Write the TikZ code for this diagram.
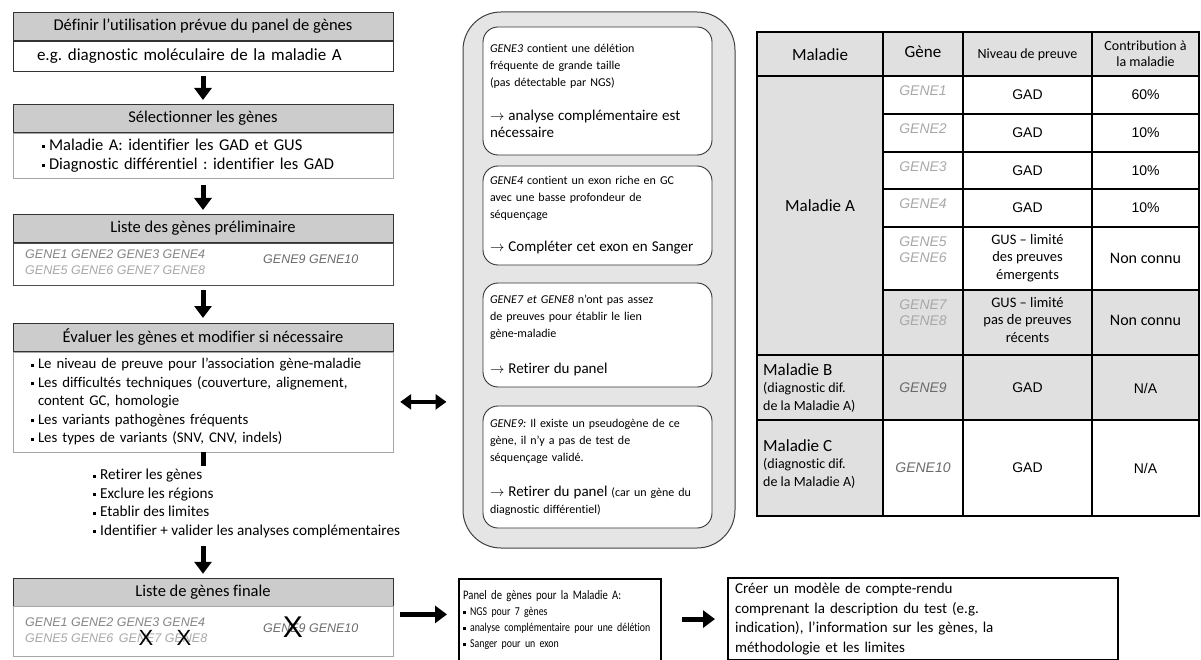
\documentclass[tikz,border=0pt]{standalone}
\usepackage{fontspec}
\setmainfont[Ligatures=NoCommon]{Carlito}
\newfontfamily\condensed[Ligatures=NoCommon,FakeStretch=0.82]{Carlito}
\newfontfamily\arial{Liberation Sans}
\usetikzlibrary{arrows.meta}
\newcommand{\fsz}[2]{\fontsize{#1}{#2}\selectfont}
\newcommand{\gros}{\fsz{15}{17}}
\newcommand{\puce}{\raisebox{0.3ex}{\rule{3pt}{3pt}}\hspace{4pt}}
\definecolor{hdrgray}{gray}{0.8}
\definecolor{cellgray}{gray}{0.88}
\definecolor{grpgray}{gray}{0.9}
\definecolor{geneA}{gray}{0.52}
\definecolor{geneB}{gray}{0.66}
\definecolor{geneC}{gray}{0.42}
\frenchspacing

\begin{document}
\begin{tikzpicture}[x=1pt,y=-1pt,
  hdr/.style={draw=black!80,fill=hdrgray,minimum width=380pt,minimum height=28pt,inner sep=0pt,font=\fsz{16.5}{20}},
  body/.style={draw=gray!70,fill=white,minimum width=380pt,text width=356pt,inner xsep=12pt,inner ysep=0pt,align=left,anchor=north},
  genes/.style={font=\arial\itshape\fsz{12.5}{15.5},align=left,inner sep=0pt},
  cross/.style={font=\arial\fsz{22}{22},inner sep=0pt},
  downarrow/.style={line width=5pt,-{Triangle[width=17pt,length=12pt]}},
  sidearrow/.style={line width=5pt,-{Triangle[width=17pt,length=12pt]}},
  note/.style={draw=black!80,line width=0.9pt,fill=white,rounded corners=15pt,minimum width=229pt,text width=215pt,inner xsep=7pt,align=left,font=\fsz{12}{17}},
  tab/.style={line width=1.3pt},
  cell/.style={align=center,inner sep=0pt,font=\fsz{14.5}{17.5}},
  gad/.style={inner sep=0pt,font=\arial\fsz{14}{17}},
  tgene/.style={inner sep=0pt,font=\arial\itshape\fsz{14}{16}},
  plainbox/.style={draw=black,line width=2.2pt,fill=white,align=left,inner xsep=7pt}]
\useasboundingbox (0,0) rectangle (1201,660);

%DEFINIR
\node[hdr] (defh) at (203,26.5) {Définir l'utilisation prévue du panel de gènes};
\node[body,draw=black!80,minimum height=30pt,text width=340pt,inner xsep=20pt,font=\fsz{17}{20}] (defb) at (defh.south) {\hspace*{4pt}e.g. diagnostic moléculaire de la maladie A};
\draw[downarrow,shorten <=5pt,shorten >=4pt] (defb.south) -- (203,104);

%SELECTIONNER
\node[hdr] (selh) at (203,118.5) {Sélectionner les gènes};
\node[body,minimum height=45pt,text width=322pt,inner xsep=29pt,font=\fsz{16.5}{19}] (selb) at (selh.south) {\puce Maladie A: identifier les GAD et GUS\\\puce Diagnostic différentiel : identifier les GAD};
\draw[downarrow,shorten <=7pt,shorten >=4pt] (selb.south) -- (203,214);

%LISTE PRELIMINAIRE
\node[hdr] (prelh) at (203,228.5) {Liste des gènes préliminaire};
\node[body,draw=black!70,minimum height=42pt] (prelb) at (prelh.south) {};
\node[genes,anchor=west] (prelg) at (25,262) {\color{geneA}GENE1 GENE2 GENE3 GENE4\\\color{geneB}GENE5 GENE6 GENE7 GENE8};
\node[genes,anchor=west,text=geneC] (prelg2) at (263,259) {GENE9 GENE10};
\draw[downarrow,shorten <=5pt,shorten >=5pt] (prelb.south) -- (203,323);

%EVALUER
\node[hdr] (evh) at (203,337.5) {Évaluer les gènes et modifier si nécessaire};
\node[body,minimum height=100pt,text width=344pt,inner xsep=18pt,font=\fsz{14.8}{18.5}] (evb) at (evh.south) {\puce Le niveau de preuve pour l’association gène-maladie\\\puce Les difficultés techniques (couverture, alignement,\\\hspace*{7pt}content GC, homologie\\\puce Les variants pathogènes fréquents\\\puce Les types de variants (SNV, CNV, indels)};

%ACTIONS
\coordinate (evcut) at (203,466);
\draw[line width=5pt] (evb.south) -- (evcut);
\node[anchor=north west,align=left,inner sep=0pt,font=\fsz{15.2}{18.5}] (acts) at (93,469) {\puce Retirer les gènes\\\puce Exclure les régions\\\puce Etablir des limites\\\puce Identifier + valider les analyses complémentaires};
\coordinate (fincut) at (203,546);

%LISTE FINALE
\node[hdr] (finh) at (203,592) {Liste de gènes finale};
\node[body,minimum height=50pt] (finb) at (finh.south) {};
\draw[downarrow,shorten >=4pt] (fincut) -- (finh.north);
\node[genes,anchor=west] (fing) at (25,630) {\color{geneA}GENE1 GENE2 GENE3 GENE4\\\color{geneB}GENE5 GENE6 \,GENE7 GENE8};
\node[genes,anchor=west,text=geneC] (fing2) at (263,628) {GENE9 GENE10};
\node[cross] (x7) at (146,638) {X};
\node[cross] (x8) at (184,638) {X};
\node[cross,font=\arial\fsz{30}{30}] (x9) at (293,627) {X};

%GROUPE DU MILIEU
\node[draw=black!75,line width=1pt,fill=grpgray,rounded corners=38pt,minimum width=272pt,minimum height=536pt] (grp) at (599,280) {};
\node[note,minimum height=128pt] (n3) at (597.5,91) {\textit{GENE3} contient une délétion\\fréquente de grande taille\\(pas détectable par NGS)\\[17pt]{\gros$\rightarrow$ analyse complémentaire est\\nécessaire}};
\node[note,minimum height=99pt] (n4) at (597.5,215.5) {\textit{GENE4} contient un exon riche en GC\\avec une basse profondeur de\\séquençage\\[16pt]{\gros$\rightarrow$ Compléter cet exon en Sanger}};
\node[note,minimum height=104pt] (n78) at (597.5,335) {\textit{GENE7 et GENE8} n’ont pas assez\\de preuves pour établir le lien\\gène-maladie\\[19pt]{\gros$\rightarrow$ Retirer du panel}};
\node[note,minimum height=122pt] (n9) at (597.5,467) {\textit{GENE9:} Il existe un pseudogène de ce\\gène, il n’y a pas de test de\\séquençage validé.\\[18pt]{\gros$\rightarrow$ Retirer du panel} (car un gène du\\diagnostic différentiel)};
\draw[line width=4pt,{Triangle[width=15pt,length=11pt]}-{Triangle[width=15pt,length=11pt]},shorten <=7pt,shorten >=16pt] (evb.east) -- (evb.east -| grp.west);

%TABLEAU
\fill[cellgray] (757,32) rectangle (1199,76);
\fill[cellgray] (757,76) rectangle (883,355);
\fill[cellgray] (883,290) rectangle (1199,355);
\fill[cellgray] (757,355) rectangle (1199,420);
\fill[cellgray] (757,420) rectangle (883,516);
\draw[tab] (757,32) rectangle (1199,516);
\foreach \y in {76,355,420} \draw[tab] (757,\y) -- (1199,\y);
\foreach \y in {114,152,189,227,290} \draw[tab] (883,\y) -- (1199,\y);
\foreach \x in {883,963,1092} \draw[tab] (\x,32) -- (\x,516);
\node[cell,font=\fsz{17}{20}] (tmal) at (820,55) {Maladie};
\node[cell,font=\fsz{17}{20}] (tgen) at (923,52) {Gène};
\node[cell,font=\fsz{14}{17}] (tniv) at (1027.5,55) {Niveau de preuve};
\node[cell,font=\fsz{14}{16}] (tcon) at (1145.5,54) {Contribution à\\la maladie};
\node[cell,font=\fsz{17}{20}] (tma) at (820,206) {Maladie A};
\foreach \g/\y/\p in {1/95/60,2/133/10,3/170.5/10,4/208/10} {
  \node[tgene,text=geneB] (tg\g) at (923,\y-4) {GENE\g};
  \node[gad] (tn\g) at (1027.5,\y) {GAD};
  \node[gad] (tc\g) at (1145.5,\y) {\p\%};
}
\node[tgene,text=geneB,align=center] (tg56) at (923,250) {GENE5\\GENE6};
\node[cell] (tn56) at (1027.5,258) {GUS -- limité\\des preuves\\émergents};
\node[cell,font=\fsz{16}{19}] (tc56) at (1145.5,258) {Non connu};
\node[tgene,text=geneB,align=center] (tg78) at (923,313) {GENE7\\GENE8};
\node[cell] (tn78) at (1027.5,320) {GUS -- limité\\pas de preuves\\récents};
\node[cell,font=\fsz{16}{19}] (tc78) at (1145.5,320) {Non connu};
\node[anchor=west,align=left,inner sep=0pt,font=\fsz{14}{17.5}] (tmb) at (763,388) {{\fsz{17}{20}Maladie B}\\(diagnostic dif.\\de la Maladie A)};
\node[tgene,text=geneC] (tg9) at (923,388) {GENE9};
\node[gad] (tn9) at (1027.5,388) {GAD};
\node[gad] (tc9) at (1145.5,388) {N/A};
\node[anchor=west,align=left,inner sep=0pt,font=\fsz{14}{17.5}] (tmc) at (763,464) {{\fsz{17}{20}Maladie C}\\(diagnostic dif.\\de la Maladie A)};
\node[tgene,text=geneC] (tg10) at (923,468) {GENE10};
\node[gad] (tn10) at (1027.5,468) {GAD};
\node[gad] (tc10) at (1145.5,468) {N/A};

%BAS
\node[plainbox,anchor=north west,minimum width=202pt,minimum height=82pt,text width=194pt,inner xsep=4pt,font=\condensed\fsz{13}{16}] (panel) at (458,578) {Panel de gènes pour la Maladie A:\\{\fsz{12}{16}\puce NGS pour 7 gènes\\\puce analyse complémentaire pour une délétion\\\puce Sanger pour un exon}};
\node[plainbox,anchor=north west,minimum width=390pt,minimum height=82pt,text width=376pt,font=\fsz{15}{19.5}] (rapport) at (727,577) {Créer un modèle de compte-rendu\\comprenant la description du test (e.g.\\indication), l’information sur les gènes, la\\méthodologie et les limites};
\draw[sidearrow,shorten <=7pt,shorten >=11pt] ([yshift=17pt]finb.east) -- ([yshift=17pt]finb.east -| panel.west);
\draw[sidearrow,shorten <=20pt,shorten >=12pt] (panel.east |- rapport.west) -- (rapport.west);
\end{tikzpicture}
\end{document}
